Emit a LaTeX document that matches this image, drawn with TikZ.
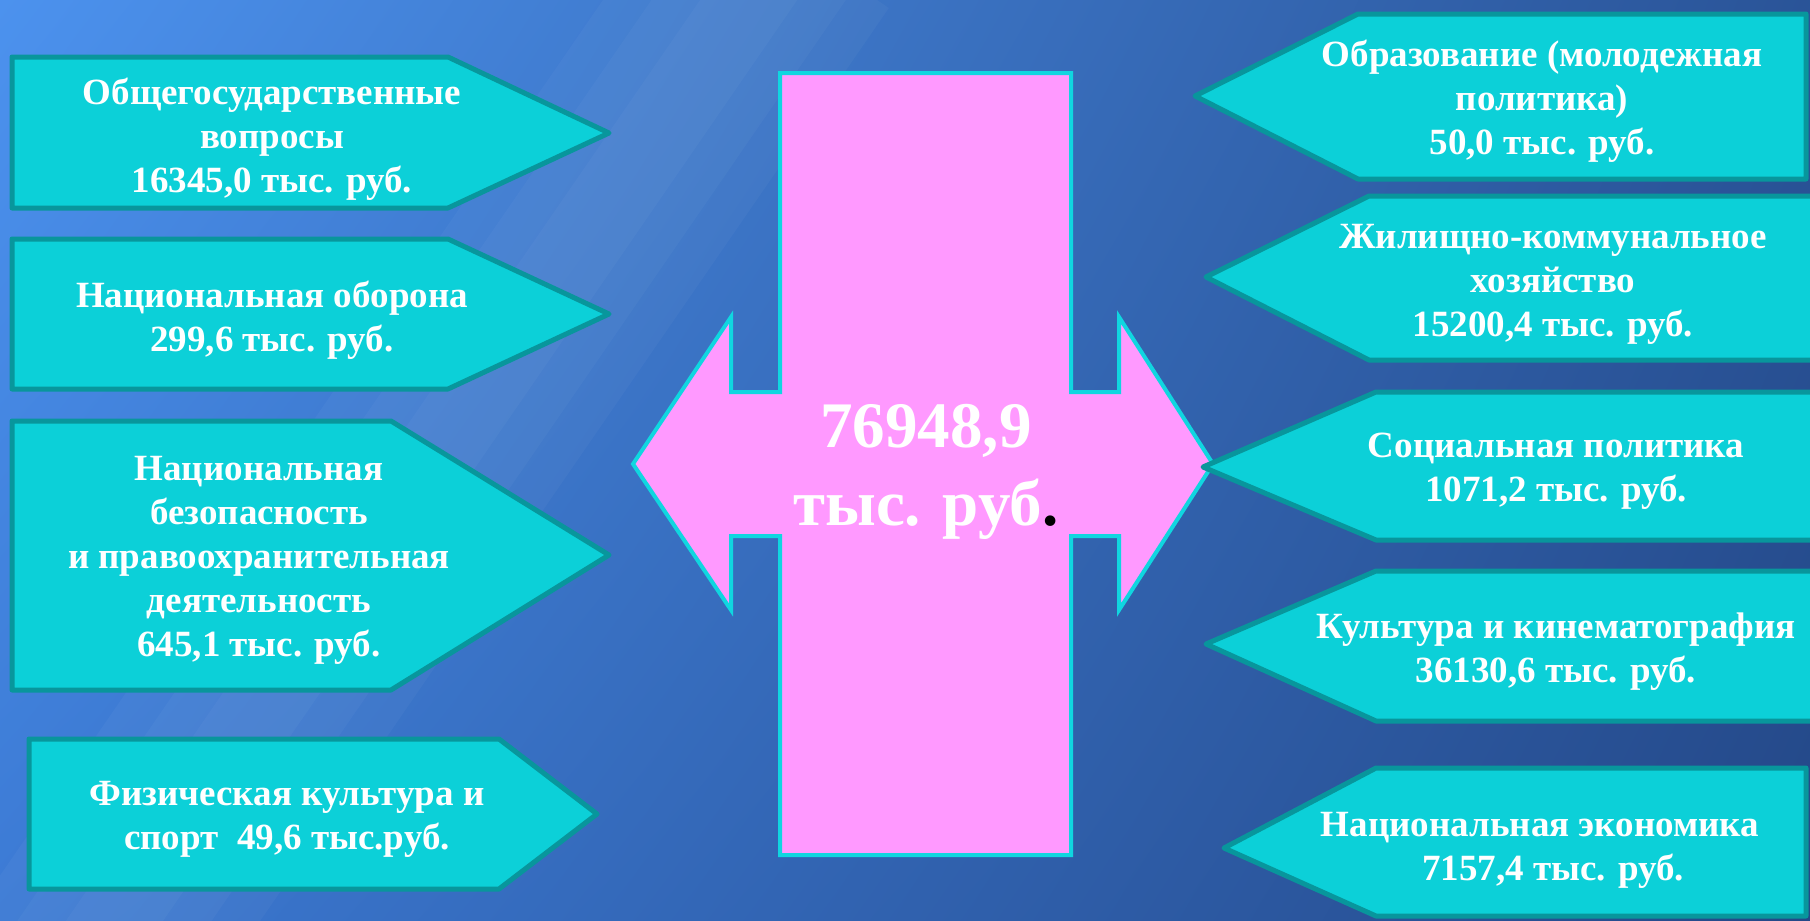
\documentclass[tikz,border=0pt]{standalone}
\usepackage{fontspec}
\usetikzlibrary{shadings}
\setmainfont{Liberation Serif}
\definecolor{bgUL}{RGB}{76,146,238}
\definecolor{bgUR}{RGB}{42,84,152}
\definecolor{bgLL}{RGB}{60,122,212}
\definecolor{bgLR}{RGB}{36,72,136}
\definecolor{boxfill}{RGB}{12,208,216}
\definecolor{boxline}{RGB}{8,150,156}
\definecolor{pinkfill}{RGB}{255,153,255}
\definecolor{pinkline}{RGB}{16,214,224}
\begin{document}
\begin{tikzpicture}[x=1pt,y=-1pt,
  box/.style={fill=boxfill,draw=boxline,line width=5pt,line join=round},
  glow/.style={draw=white,line cap=butt},
  lbl/.style={text=white,font=\bfseries\fontsize{37}{44}\selectfont,align=center,inner sep=0pt},
  big/.style={text=white,font=\bfseries\fontsize{65}{78}\selectfont,align=center,inner sep=0pt}]
\useasboundingbox (0,0) rectangle (1810,921);
\shade[upper left=bgUL,upper right=bgUR,lower left=bgLL,lower right=bgLR] (0,0) rectangle (1810,921);
% soft lighter diagonal band
\begin{scope}
\clip (0,0) rectangle (1810,921);
\coordinate (g1) at (60,1000);
\coordinate (g2) at (790,-60);
\draw[glow,opacity=0.03,line width=240pt] (g1) -- (g2);
\draw[glow,opacity=0.03,line width=160pt] (g1) -- (g2);
\draw[glow,opacity=0.03,line width=80pt] (g1) -- (g2);
\end{scope}

% central double arrow
\draw[fill=pinkfill,draw=pinkline,line width=4pt]
  (780,73) -- (1071,73) -- (1071,392) -- (1119,392) -- (1119,317) -- (1213,464)
  -- (1119,610) -- (1119,536) -- (1071,536) -- (1071,855) -- (780,855)
  -- (780,536) -- (731,536) -- (731,610) -- (633,464) -- (731,317)
  -- (731,392) -- (780,392) -- cycle;
\node[big] (total) at (926,472) {76948,9\\тыс. руб\textcolor{black}{.}};

% left boxes
\draw[box] (12,57) -- (448,57) -- (609,133) -- (448,208) -- (12,208) -- cycle;
\node[lbl] (l1) at (272,139) {Общегосударственные\\вопросы\\16345,0 тыс. руб.};
\draw[box] (12,239) -- (448,239) -- (609,314) -- (448,389) -- (12,389) -- cycle;
\node[lbl] (l2) at (272,320) {Национальная оборона\\299,6 тыс. руб.};
\draw[box] (12,421) -- (391,421) -- (609,555) -- (391,690) -- (12,690) -- cycle;
\node[lbl] (l3) at (259,560) {Национальная\\безопасность\\и правоохранительная\\деятельность\\645,1 тыс. руб.};
\draw[box] (29,739) -- (499,739) -- (597,814) -- (499,889) -- (29,889) -- cycle;
\node[lbl] (l4) at (287,819) {Физическая культура и\\спорт\ \ 49,6 тыс.руб.};

% right boxes
\draw[box] (1195,96) -- (1358,14) -- (1806,14) -- (1806,179) -- (1358,179) -- cycle;
\node[lbl] (r1) at (1542,101) {Образование (молодежная\\политика)\\50,0 тыс. руб.};
\draw[box] (1206,277) -- (1369,196) -- (1822,196) -- (1822,360) -- (1369,360) -- cycle;
\node[lbl] (r2) at (1553,284) {Жилищно-коммунальное\\хозяйство\\15200,4 тыс. руб.};
\draw[box] (1203,467) -- (1376,392) -- (1822,392) -- (1822,540) -- (1376,540) -- cycle;
\node[lbl] (r3) at (1556,471) {Социальная политика\\1071,2 тыс. руб.};
\draw[box] (1206,644) -- (1376,571) -- (1822,571) -- (1822,721) -- (1376,721) -- cycle;
\node[lbl] (r4) at (1556,652) {Культура и кинематография\\36130,6 тыс. руб.};
\draw[box] (1224,848) -- (1376,768) -- (1806,768) -- (1806,916) -- (1376,916) -- cycle;
\node[lbl] (r5) at (1540,850) {Национальная экономика\\\hspace*{26pt}7157,4 тыс. руб.};
\end{tikzpicture}
\end{document}
